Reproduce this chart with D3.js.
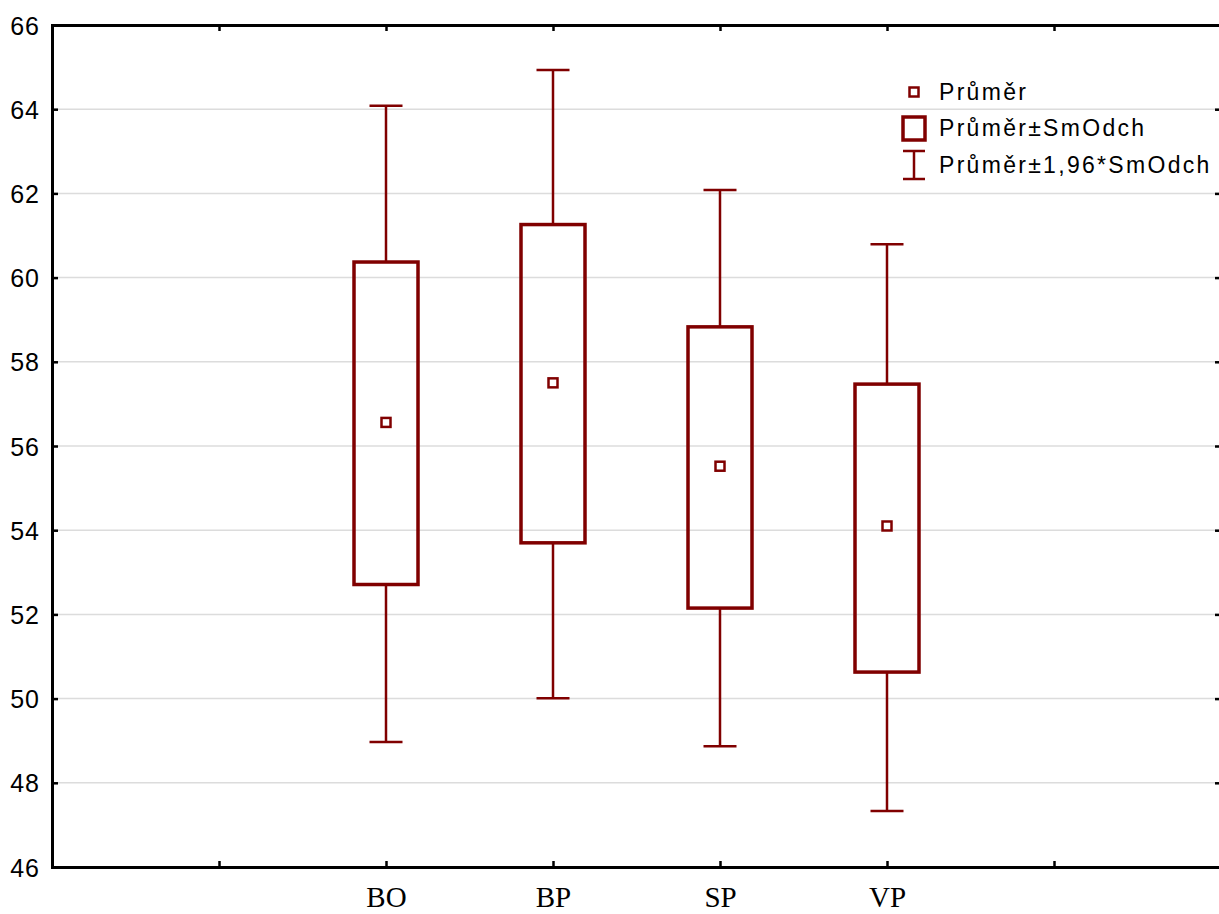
<!DOCTYPE html>
<html>
<head>
<meta charset="utf-8">
<script src="https://cdn.jsdelivr.net/npm/d3@7"></script>
<style>
  html, body { margin: 0; padding: 0; background: #fff; }
  svg { display: block; }
</style>
</head>
<body>
<div id="chart"></div>
<script>
// Data
const categories = ["BO", "BP", "SP", "VP"];
const means      = [56.56, 57.50, 55.52, 54.10];
const boxLow     = [52.71, 53.70, 52.15, 50.63];
const boxHigh    = [60.37, 61.26, 58.83, 57.47];
const whiskLow   = [48.97, 50.01, 48.87, 47.33];
const whiskHigh  = [64.08, 64.93, 62.08, 60.79];
const yTicks     = [46, 48, 50, 52, 54, 56, 58, 60, 62, 64, 66];
const legendLabels = ["Průměr", "Průměr±SmOdch", "Průměr±1,96*SmOdch"];

const W = 1219, H = 914;
const margin = { top: 25, right: -2, bottom: 47, left: 52 };
const red = "#800000";

const svg = d3.select("#chart").append("svg")
    .attr("width", W)
    .attr("height", H);

// x positions: 7 slots, categories sit on slots 2..5
const x = d3.scaleLinear()
    .domain([0, 7])
    .range([margin.left, W - margin.right]);
const slot = i => i + 2;

const y = d3.scaleLinear()
    .domain([46, 66])
    .range([H - margin.bottom, margin.top]);

// grid
svg.append("g")
    .selectAll("line")
    .data(yTicks.slice(1, -1))
    .join("line")
    .attr("x1", x(0)).attr("x2", x(7))
    .attr("y1", d => y(d)).attr("y2", d => y(d))
    .attr("stroke", "#dcdcdc")
    .attr("stroke-width", 1.5);

// axes
const xTickVals = [1, 2, 3, 4, 5, 6];
const xLabel = d => (d >= 2 && d <= 5) ? categories[d - 2] : "";

const gx = svg.append("g")
    .attr("transform", `translate(0,${y(46)})`)
    .call(d3.axisBottom(x).tickValues(xTickVals).tickFormat(xLabel).tickSize(-6).tickPadding(19));
const gxTop = svg.append("g")
    .attr("transform", `translate(0,${y(66)})`)
    .call(d3.axisTop(x).tickValues(xTickVals).tickFormat("").tickSize(-6));
const gy = svg.append("g")
    .attr("transform", `translate(${x(0)},0)`)
    .call(d3.axisLeft(y).tickValues(yTicks).tickFormat(d3.format("d")).tickSize(-6).tickPadding(12));
const gyRight = svg.append("g")
    .attr("transform", `translate(${x(7)},0)`)
    .call(d3.axisRight(y).tickValues(yTicks).tickFormat("").tickSize(-6));

[gx, gxTop, gy, gyRight].forEach(g => {
    g.select(".domain").attr("stroke", "#000").attr("stroke-width", 3);
    g.selectAll(".tick line").attr("stroke", "#000").attr("stroke-width", 2.5);
});

gx.selectAll("text")
    .attr("fill", "#000")
    .style("font-family", "'Liberation Serif', 'Times New Roman', serif")
    .style("font-size", "29px");

gy.selectAll("text")
    .attr("fill", "#000")
    .attr("dy", "0.36em")
    .style("font-family", "'Liberation Sans', Arial, sans-serif")
    .style("font-size", "25px")
    .style("letter-spacing", "1px");

// boxes and whiskers
const boxW = 64, capW = 33;
const plot = svg.append("g");

categories.forEach((c, i) => {
    const cx = x(slot(i));
    // whiskers
    plot.append("line")
        .attr("x1", cx).attr("x2", cx)
        .attr("y1", y(whiskHigh[i])).attr("y2", y(boxHigh[i]))
        .attr("stroke", red).attr("stroke-width", 2.5);
    plot.append("line")
        .attr("x1", cx).attr("x2", cx)
        .attr("y1", y(boxLow[i])).attr("y2", y(whiskLow[i]))
        .attr("stroke", red).attr("stroke-width", 2.5);
    [whiskHigh[i], whiskLow[i]].forEach(v => {
        plot.append("line")
            .attr("x1", cx - capW / 2).attr("x2", cx + capW / 2)
            .attr("y1", y(v)).attr("y2", y(v))
            .attr("stroke", red).attr("stroke-width", 2.5);
    });
    // box
    plot.append("rect")
        .attr("x", cx - boxW / 2)
        .attr("y", y(boxHigh[i]))
        .attr("width", boxW)
        .attr("height", y(boxLow[i]) - y(boxHigh[i]))
        .attr("fill", "none")
        .attr("stroke", red)
        .attr("stroke-width", 3.5);
    // mean marker
    plot.append("rect")
        .attr("x", cx - 4.5)
        .attr("y", y(means[i]) - 4.5)
        .attr("width", 9).attr("height", 9)
        .attr("fill", "#fff")
        .attr("stroke", red)
        .attr("stroke-width", 2.5);
});

// legend
const legend = svg.append("g").attr("transform", "translate(914,0)");
const rowY = [92, 128, 165];

legend.append("rect")
    .attr("x", -4.5).attr("y", rowY[0] - 4.5)
    .attr("width", 9).attr("height", 9)
    .attr("fill", "#fff").attr("stroke", red).attr("stroke-width", 2.5);

legend.append("rect")
    .attr("x", -11).attr("y", rowY[1] - 11)
    .attr("width", 22).attr("height", 23)
    .attr("fill", "none").attr("stroke", red).attr("stroke-width", 3.5);

legend.append("line")
    .attr("x1", 0).attr("x2", 0).attr("y1", rowY[2] - 14).attr("y2", rowY[2] + 14)
    .attr("stroke", red).attr("stroke-width", 2.5);
[-14, 14].forEach(dy => {
    legend.append("line")
        .attr("x1", -11).attr("x2", 11)
        .attr("y1", rowY[2] + dy).attr("y2", rowY[2] + dy)
        .attr("stroke", red).attr("stroke-width", 2.5);
});

legend.selectAll("text.lbl")
    .data(legendLabels)
    .join("text")
    .attr("class", "lbl")
    .attr("x", 25)
    .attr("y", (d, i) => rowY[i])
    .attr("dy", "0.36em")
    .attr("fill", "#000")
    .style("font-family", "'Liberation Sans', Arial, sans-serif")
    .style("font-size", "23px")
    .style("letter-spacing", "2.3px")
    .text(d => d);
</script>
</body>
</html>
